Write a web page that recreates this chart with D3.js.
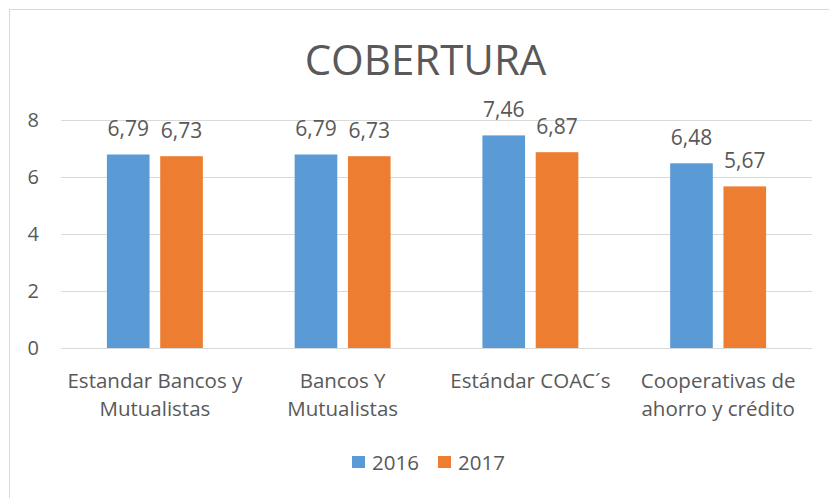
<!DOCTYPE html>
<html>
<head>
<meta charset="utf-8">
<script src="https://cdn.jsdelivr.net/npm/d3@7"></script>
<style>
html,body{margin:0;padding:0;background:#fff;}
svg{display:block;}
text{font-family:"Open Sans","Noto Sans",sans-serif;fill:#595959;}
</style>
</head>
<body>
<svg id="chart" width="829" height="498"></svg>
<script>
const title = "COBERTURA";
const categories = ["Estandar Bancos y\nMutualistas", "Bancos Y\nMutualistas", "Estándar COAC´s", "Cooperativas de\nahorro y crédito"];
const seriesNames = ["2016", "2017"];
const values2016 = [6.79, 6.79, 7.46, 6.48];
const values2017 = [6.73, 6.73, 6.87, 5.67];
const yTicks = [0, 2, 4, 6, 8];
const colors = ["#5B9BD5", "#ED7D31"];

const series = [values2016, values2017];
const svg = d3.select("#chart");

// chart border
svg.append("rect").attr("x", 9.5).attr("y", 9.5).attr("width", 840).attr("height", 520)
  .attr("fill", "none").attr("stroke", "#d9d9d9").attr("stroke-width", 1);

const plot = {left: 61, right: 812, top: 120, bottom: 348};

const x0 = d3.scaleBand().domain(d3.range(categories.length)).range([plot.left, plot.right]).padding(0);
const bw = x0.bandwidth();
const x1 = d3.scaleBand().domain(d3.range(series.length)).range([bw * 0.2445, bw * 0.7555]).paddingInner(0.2);
const y = d3.scaleLinear().domain([0, 8]).range([plot.bottom, plot.top]);

// gridlines
svg.append("g").selectAll("line").data(yTicks).join("line")
  .attr("x1", plot.left).attr("x2", plot.right)
  .attr("y1", d => Math.round(y(d)) + 0.5).attr("y2", d => Math.round(y(d)) + 0.5)
  .attr("stroke", "#d9d9d9").attr("stroke-width", 1);

// y tick labels
svg.append("g").selectAll("text").data(yTicks).join("text")
  .attr("x", 39).attr("y", d => y(d)).attr("dy", "0.35em")
  .attr("text-anchor", "end").attr("font-size", 20).text(d => d);

// bars
const groups = svg.append("g").selectAll("g").data(categories).join("g")
  .attr("transform", (d, i) => `translate(${x0(i)},0)`);

series.forEach((vals, s) => {
  groups.append("rect")
    .attr("x", x1(s)).attr("width", x1.bandwidth())
    .attr("y", (d, i) => y(vals[i])).attr("height", (d, i) => y(0) - y(vals[i]))
    .attr("fill", colors[s]);
  groups.append("text")
    .attr("x", x1(s) + x1.bandwidth() / 2)
    .attr("y", (d, i) => y(vals[i]) - 18)
    .attr("text-anchor", "middle").attr("font-size", 21)
    .text((d, i) => vals[i].toFixed(2).replace(".", ","));
});

// x labels
groups.append("text")
  .attr("text-anchor", "middle").attr("font-size", 20.5)
  .attr("x", bw / 2)
  .each(function(d) {
    const lines = d.split("\n");
    d3.select(this).selectAll("tspan").data(lines).join("tspan")
      .attr("x", bw / 2).attr("y", (l, j) => 388 + j * 28).text(l => l);
  });

// title
svg.append("text").attr("x", 425.5).attr("y", 75)
  .attr("text-anchor", "middle").attr("font-size", 42).text(title);

// legend
const legend = svg.append("g");
const legendX = [352, 438];
seriesNames.forEach((n, s) => {
  legend.append("rect").attr("x", legendX[s]).attr("y", 456).attr("width", 13).attr("height", 12).attr("fill", colors[s]);
  legend.append("text").attr("x", legendX[s] + 20).attr("y", 469.5).attr("font-size", 20.5).text(n);
});
</script>
</body>
</html>
